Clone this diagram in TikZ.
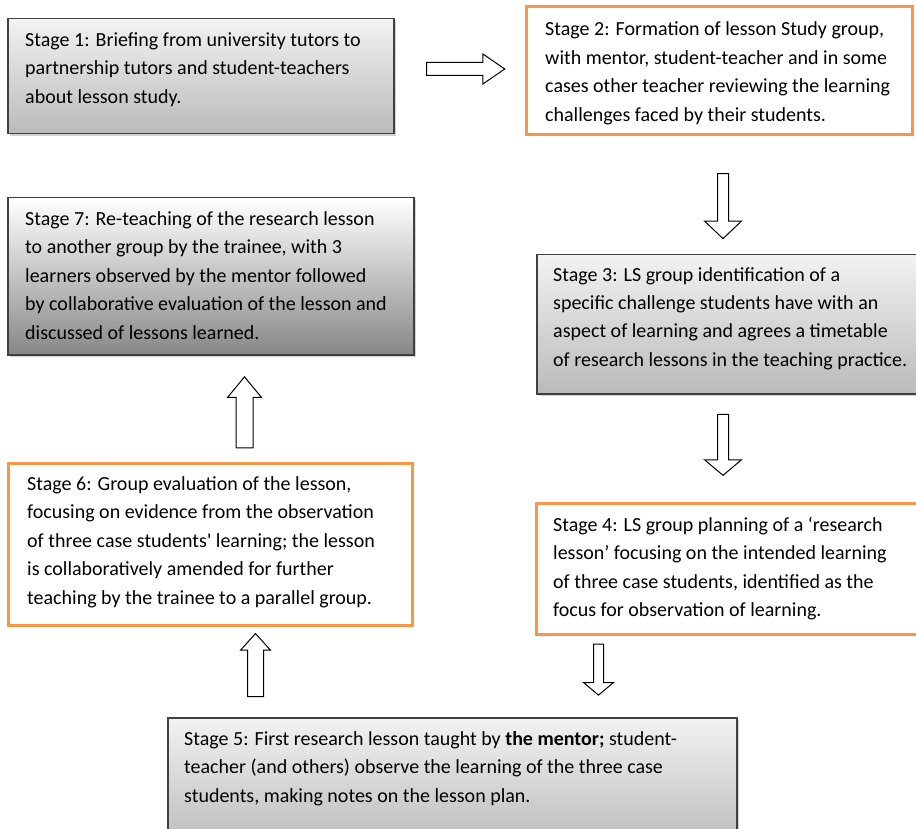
\documentclass[tikz,border=0pt]{standalone}
\usepackage{fontspec}
\setmainfont{Carlito}
\newfontfamily\rawfont{Carlito}[Ligatures=TeXOff]
\usetikzlibrary{shapes.arrows,shadows}
\definecolor{orng}{HTML}{F79646}
\definecolor{edge}{HTML}{404040}
\tikzset{
  graybox/.style={draw=edge, line width=1.5pt, top color=black!5, bottom color=black!27,
    drop shadow={opacity=0.35, shadow xshift=2pt, shadow yshift=-2pt}, inner sep=0pt, anchor=north west},
  darkbox/.style={graybox, top color=white, bottom color=black!47},
  orangebox/.style={draw=orng, line width=3pt, fill=white, inner sep=0pt, anchor=north west},
  txt/.style={anchor=base west, align=left, inner sep=0pt, font=\fontsize{20}{28.5}\selectfont},
  blockarrow/.style={shape=single arrow, draw=black, line width=1pt, fill=white, inner xsep=0pt,
    single arrow head indent=0pt},
}
\begin{document}
\begin{tikzpicture}[x=1pt,y=-1pt]
\useasboundingbox (0,0) rectangle (916,829);
\clip (0,0) rectangle (916,829);
\fill[white] (0,0) rectangle (916,829);

% boxes
\node[graybox, minimum width=386pt, minimum height=115pt] (s1) at (7,18) {};
\node[orangebox, minimum width=386pt, minimum height=128pt] (s2) at (525,5) {};
\node[darkbox, minimum width=406pt, minimum height=157pt] (s7) at (7,197) {};
\node[graybox, minimum width=400pt, minimum height=139pt] (s3) at (536,254) {};
\node[orangebox, minimum width=404pt, minimum height=162pt] (s6) at (7,462) {};
\node[orangebox, minimum width=400pt, minimum height=131pt] (s4) at (535,502) {};
\node[graybox, minimum width=569pt, minimum height=130pt] (s5) at (167,717) {};

% texts (anchor = baseline of last line)
\node[txt] (t1) at (25,103.5) {Stage 1: Briefing from university tutors to\\partnership tutors and student-teachers\\about lesson study.};
\node[txt] (t2) at (545,121.5) {Stage 2: Formation of lesson Study group,\\with mentor, student-teacher and in some\\cases other teacher reviewing the learning\\challenges faced by their students.};
\node[txt] (t7) at (25,339) {Stage 7: Re-teaching of the research lesson\\to another group by the trainee, with 3\\learners observed by the mentor followed\\by collaborative evaluation of the lesson and\\discussed of lessons learned.};
\node[txt] (t3) at (553,366.5) {Stage 3: LS group identification of a\\specific challenge students have with an\\aspect of learning and agrees a timetable\\of research lessons in the teaching practice.};
\node[txt] (t6) at (27,604) {Stage 6: Group evaluation of the lesson,\\focusing on evidence from the observation\\of three case students{\rawfont '} learning; the lesson\\is collaboratively amended for further\\teaching by the trainee to a parallel group.};
\node[txt] (t4) at (553,616.5) {Stage 4: LS group planning of a ‘research\\lesson’ focusing on the intended learning\\of three case students, identified as the\\focus for observation of learning.};
\node[txt] (t5) at (184,802) {Stage 5: First research lesson taught by \textbf{the mentor;} student-\\teacher (and others) observe the learning of the three case\\students, making notes on the lesson plan.};

% block arrows
\node[blockarrow, minimum height=78pt, inner ysep=6pt, single arrow head extend=8.5pt, single arrow tip angle=69] (a12) at (461,69) {};
\node[blockarrow, rotate=-90, minimum height=65pt, inner ysep=5pt, single arrow head extend=13pt, single arrow tip angle=93] (a23) at (723,203.5) {};
\node[blockarrow, rotate=-90, minimum height=61pt, inner ysep=5pt, single arrow head extend=13pt, single arrow tip angle=100] (a34) at (723,442.5) {};
\node[blockarrow, rotate=-90, minimum height=51pt, inner ysep=4.5pt, single arrow head extend=10pt, single arrow tip angle=100] (a45) at (598.5,667.5) {};
\node[blockarrow, rotate=90, minimum height=63pt, inner ysep=7.5pt, single arrow head extend=7pt, single arrow tip angle=84] (a56) at (255.5,669.5) {};
\node[blockarrow, rotate=90, minimum height=71pt, inner ysep=8pt, single arrow head extend=8.5pt, single arrow tip angle=79] (a67) at (244.5,417.5) {};
\end{tikzpicture}
\end{document}
